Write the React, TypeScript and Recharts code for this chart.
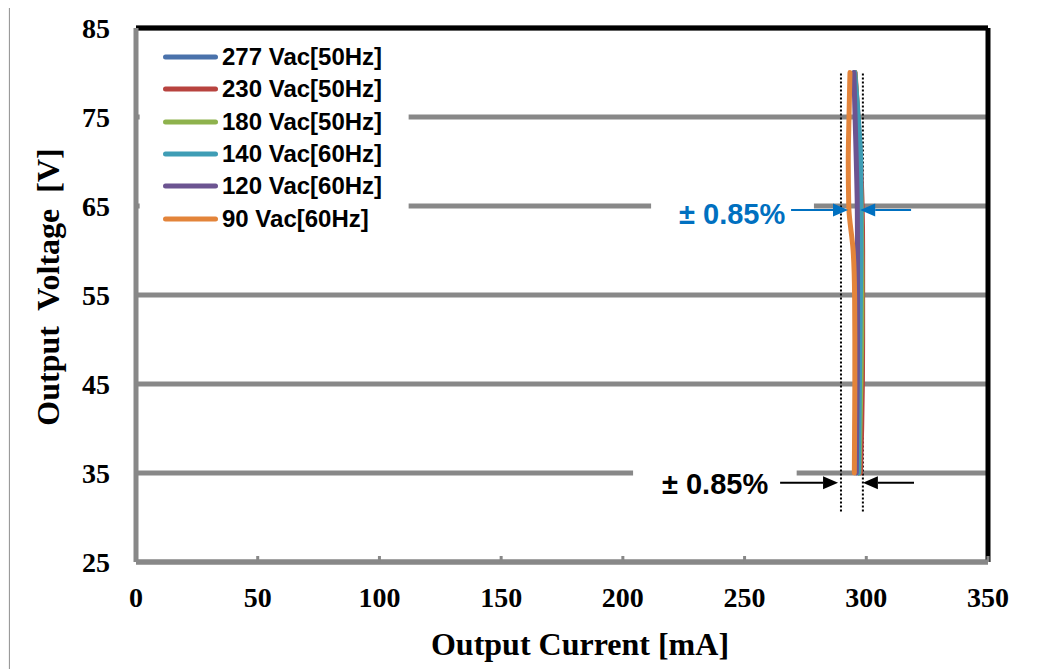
import React from 'react';
import {
  LineChart, Line, XAxis, YAxis, CartesianGrid, Legend,
  ReferenceLine, ReferenceArea, ReferenceDot,
} from 'recharts';

// ---- data ----
const voltages = [80, 75, 70, 65, 60, 55, 50, 45, 40, 35];
const s277 = [295.1, 296.3, 297.1, 297.5, 297.7, 297.7, 297.6, 297.4, 297.1, 296.8];
const s230 = [295.4, 296.6, 297.6, 298.3, 298.5, 298.5, 298.5, 298.4, 298.1, 297.6];
const s180 = [295.3, 296.5, 297.3, 297.9, 298.1, 298.2, 298.1, 297.8, 297.4, 297.0];
const s140 = [295.2, 296.7, 297.7, 297.8, 297.8, 297.6, 297.4, 297.2, 297.0, 296.8];
const s120 = [294.9, 295.4, 295.9, 296.3, 296.4, 296.4, 296.4, 296.3, 296.1, 295.9];
const s90 = [293.3, 292.9, 292.6, 292.8, 294.6, 295.2, 295.3, 295.3, 295.2, 295.1];

const seriesNames = ['277 Vac[50Hz]', '230 Vac[50Hz]', '180 Vac[50Hz]', '140 Vac[60Hz]', '120 Vac[60Hz]', '90 Vac[60Hz]'];
const seriesKeys = ['s277', 's230', 's180', 's140', 's120', 's90'];
const seriesValues = [s277, s230, s180, s140, s120, s90];
const colors = ['#4a72ab', '#b8433f', '#8eb24d', '#3f9db5', '#6c5491', '#e3843a'];

const xTicks = [0, 50, 100, 150, 200, 250, 300, 350];
const yTicks = [25, 35, 45, 55, 65, 75, 85];

// tolerance band (dotted) and annotation anchors, in data units
const bandLow = 289.6;
const bandHigh = 298.6;
const bandTop = 79.9;
const bandBottom = 30.6;
const annotText = '± 0.85%';

const rows = voltages.map((v, i) => {
  const r: Record<string, number> = { v };
  seriesKeys.forEach((k, j) => { r[k] = seriesValues[j][i]; });
  return r;
});

const serif = "'Times New Roman', 'Liberation Serif', serif";
const sans = "Arial, 'Liberation Sans', sans-serif";

const Arrow = (color: string) => (p: any) => {
  const { x1, y1, x2, y2 } = p;
  if (x1 == null || x2 == null) return null;
  const dir = x2 > x1 ? 1 : -1;
  const len = 15;
  const hw = 6.5;
  return (
    <g>
      <line x1={x1} y1={y1} x2={x2 - dir * len} y2={y2} stroke={color} strokeWidth={2} />
      <polygon points={`${x2},${y2} ${x2 - dir * len},${y2 - hw} ${x2 - dir * len},${y2 + hw}`} fill={color} />
    </g>
  );
};

const TextAt = (color: string) => (p: any) => (
  <text x={p.cx} y={p.cy} textAnchor="middle" dominantBaseline="central"
    style={{ font: `bold 29px ${sans}`, fill: color }}>{annotText}</text>
);

const renderLegend = () => (
  <div style={{ display: 'flex', flexDirection: 'column' }}>
    {seriesNames.map((name, i) => (
      <div key={name} style={{ height: 32.3, display: 'flex', alignItems: 'center' }}>
        <svg width={58} height={8} style={{ display: 'block' }}>
          <line x1={5.5} y1={4} x2={55.5} y2={4} stroke={colors[i]} strokeWidth={5} strokeLinecap="round" />
        </svg>
        <span style={{ marginLeft: 4, font: `bold 24px ${sans}`, color: '#000', lineHeight: '24px', whiteSpace: 'nowrap' }}>{name}</span>
      </div>
    ))}
  </div>
);

export default function App() {
  return (
    <div style={{ position: 'relative', width: 1042, height: 669, marginLeft: -8, marginTop: -8, background: '#fff', overflow: 'hidden' }}>
      <div style={{ position: 'absolute', left: 0, top: 0, width: 9, height: 669, background: '#f3f3f3' }} />
      <div style={{ position: 'absolute', left: 9, top: 4, width: 1031, height: 700, border: '1.5px solid #9a9a9a', boxSizing: 'border-box' }} />
      <div style={{ position: 'absolute', left: 0, top: 0 }}>
        <LineChart layout="vertical" width={1042} height={669} data={rows}
          margin={{ top: 28, right: 54, bottom: 47, left: 36 }}>
          <CartesianGrid horizontal vertical={false} stroke="#888" strokeWidth={5} />
          <ReferenceArea x1={1.5} x2={112} y1={62} y2={84.2} fill="#fff" fillOpacity={1} stroke="none" />
          <ReferenceArea x1={211.6} x2={278.5} y1={63} y2={67} fill="#fff" fillOpacity={1} stroke="none" />
          <ReferenceArea x1={204.2} x2={271.4} y1={33} y2={37} fill="#fff" fillOpacity={1} stroke="none" />
          <XAxis type="number" domain={[0, 350]} ticks={xTicks} interval={0}
            axisLine={{ stroke: '#888', strokeWidth: 5 }}
            tickLine={{ stroke: '#888', strokeWidth: 3 }} tickSize={-6} tickMargin={31}
            height={60}
            tick={{ fill: '#000', style: { font: `bold 28px ${serif}` } }}
            label={{
              content: (p: any) => {
                const vb = p.viewBox || { x: 136, y: 562, width: 852, height: 60 };
                return (
                  <text x={vb.x + vb.width / 2 + 18} y={655} textAnchor="middle"
                    style={{ font: `bold 32px ${serif}`, fill: '#000' }}>Output Current [mA]</text>
                );
              },
            }}
          />
          <YAxis type="number" dataKey="v" domain={[25, 85]} ticks={yTicks} interval={0}
            reversed width={100}
            axisLine={{ stroke: '#888', strokeWidth: 5 }}
            tickLine={false} tickSize={0} tickMargin={26}
            tick={{ fill: '#000', style: { font: `bold 28px ${serif}` } }}
            label={{
              content: (p: any) => {
                const vb = p.viewBox || { x: 36, y: 28, width: 100, height: 534 };
                const cy = vb.y + vb.height / 2 - 8;
                return (
                  <text x={48} y={cy} textAnchor="middle" dominantBaseline="central"
                    transform={`rotate(-90 48 ${cy})`}
                    style={{ font: `bold 32px ${serif}`, fill: '#000', whiteSpace: 'pre' }}>Output  Voltage  [V]</text>
                );
              },
            }}
          />
          <ReferenceLine y={85} stroke="#000" strokeWidth={5} />
          <ReferenceLine x={350} stroke="#000" strokeWidth={5} />
          <ReferenceLine segment={[{ x: bandLow, y: bandTop }, { x: bandLow, y: bandBottom }]} stroke="#000" strokeWidth={2} strokeDasharray="2 2" />
          <ReferenceLine segment={[{ x: bandHigh, y: bandTop }, { x: bandHigh, y: bandBottom }]} stroke="#000" strokeWidth={2} strokeDasharray="2 2" />
          {seriesKeys.map((k, i) => (
            <Line key={k} dataKey={k} name={seriesNames[i]} type="monotone" stroke={colors[i]}
              strokeWidth={5} strokeLinecap="round" dot={false} activeDot={false} isAnimationActive={false} />
          ))}
          <ReferenceLine segment={[{ x: 269.1, y: 64.55 }, { x: 292.5, y: 64.55 }]} shape={Arrow('#0070c0')} />
          <ReferenceLine segment={[{ x: 318.4, y: 64.55 }, { x: 297.5, y: 64.55 }]} shape={Arrow('#0070c0')} />
          <ReferenceLine segment={[{ x: 264.6, y: 33.9 }, { x: 288.4, y: 33.9 }]} shape={Arrow('#000')} />
          <ReferenceLine segment={[{ x: 319.6, y: 33.9 }, { x: 298.6, y: 33.9 }]} shape={Arrow('#000')} />
          <ReferenceDot x={244.9} y={64.1} r={0} shape={TextAt('#0070c0')} />
          <ReferenceDot x={237.9} y={33.8} r={0} shape={TextAt('#000')} />
          <Legend layout="vertical" align="center" verticalAlign="middle" content={renderLegend}
            wrapperStyle={{ left: 160, top: 41, width: 240, height: 195 }} />
        </LineChart>
      </div>
    </div>
  );
}
